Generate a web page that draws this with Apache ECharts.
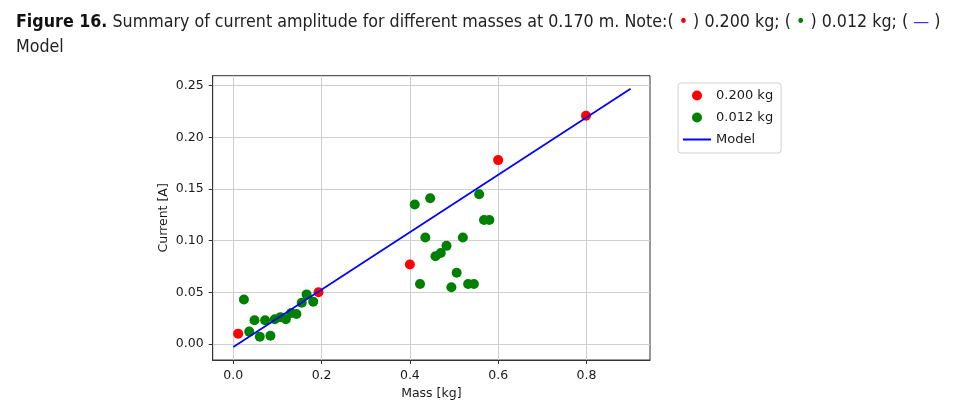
<!DOCTYPE html>
<html>
<head>
<meta charset="utf-8">
<script src="https://cdn.jsdelivr.net/npm/echarts@6/dist/echarts.min.js"></script>
<style>html,body{margin:0;padding:0;background:#fff}#c{width:972px;height:405px}</style>
</head>
<body>
<div id="c"></div>
<script>
// Data
const redX = [0.011, 0.193, 0.400, 0.600, 0.799];
const redY = [0.010, 0.050, 0.077, 0.178, 0.221];
const greenX = [0.024, 0.036, 0.048, 0.060, 0.072, 0.084, 0.094, 0.107, 0.119, 0.131, 0.143, 0.155, 0.166, 0.181,
                0.411, 0.423, 0.435, 0.446, 0.458, 0.470, 0.483, 0.494, 0.506, 0.520, 0.532, 0.545, 0.557, 0.568, 0.580];
const greenY = [0.043, 0.012, 0.023, 0.007, 0.023, 0.008, 0.024, 0.026, 0.024, 0.030, 0.029, 0.040, 0.048, 0.041,
                0.135, 0.058, 0.103, 0.141, 0.085, 0.088, 0.095, 0.055, 0.069, 0.103, 0.058, 0.058, 0.145, 0.120, 0.120];
const modelX = [0.0, 0.9];
const modelY = [-0.003, 0.247];
const xTicks = [0.0, 0.2, 0.4, 0.6, 0.8];
const yTicks = [0.00, 0.05, 0.10, 0.15, 0.20, 0.25];
const seriesNames = ['0.200 kg', '0.012 kg', 'Model'];

const zip = (a, b) => a.map((v, i) => [v, b[i]]);
const F = 'DejaVu Sans';
const CF = "'DejaVu Sans Condensed', 'DejaVu Sans'";
const TS = 17.7;
const chart = echarts.init(document.getElementById('c'), null, {renderer: 'canvas'});
chart.setOption({
  animation: false,
  backgroundColor: '#fff',
  title: {
    left: 11, top: 5,
    text: '{b|Figure 16.} Summary of current amplitude for different masses at 0.170 m. Note:( {r|•} ) 0.200 kg; ( {g|•} ) 0.012 kg; ( {l|—} )\nModel',
    textStyle: {
      fontFamily: CF, fontSize: TS, fontWeight: 'normal', color: '#222', lineHeight: 25,
      rich: {
        b: {fontFamily: CF, fontSize: TS, fontWeight: 'bold', color: '#111'},
        r: {fontFamily: CF, fontSize: TS, color: '#ff0000'},
        g: {fontFamily: CF, fontSize: TS, color: '#008000'},
        l: {fontFamily: CF, fontSize: TS, color: '#3333ff'}
      }
    }
  },
  legend: {
    orient: 'vertical', left: 678, top: 83,
    padding: [6, 8, 7, 5], itemGap: 9, itemWidth: 28, itemHeight: 10,
    borderColor: '#d0d0d0', borderWidth: 1, borderRadius: 3,
    textStyle: {fontFamily: F, fontSize: 13, color: '#1a1a1a'},
    data: [
      {name: seriesNames[0], icon: 'circle'},
      {name: seriesNames[1], icon: 'circle'},
      {name: seriesNames[2], icon: 'path://M0,0 H28 V2 H0 Z'}
    ]
  },
  grid: {left: 212.7, right: 322, top: 75.7, bottom: 45, show: true, borderColor: '#333', borderWidth: 1, containLabel: false},
  xAxis: {
    type: 'value', min: -0.0467, max: 0.944,
    name: 'Mass [kg]', nameLocation: 'middle', nameGap: 27,
    nameTextStyle: {fontFamily: F, fontSize: 12.5, color: '#1a1a1a'},
    axisLine: {show: true, onZero: false, lineStyle: {color: '#333'}},
    axisTick: {show: true, length: 4, customValues: xTicks, lineStyle: {color: '#333'}},
    axisLabel: {customValues: xTicks, margin: 9, fontFamily: F, fontSize: 12.5, color: '#1a1a1a', formatter: v => v.toFixed(1)},
    splitLine: {show: true, lineStyle: {color: '#cfcfcf', width: 1}}
  },
  yAxis: {
    type: 'value', min: -0.0155, max: 0.2597,
    name: 'Current [A]', nameLocation: 'middle', nameGap: 42,
    nameTextStyle: {fontFamily: F, fontSize: 12.5, color: '#1a1a1a'},
    axisLine: {show: true, onZero: false, lineStyle: {color: '#333'}},
    axisTick: {show: true, length: 4, customValues: yTicks, lineStyle: {color: '#333'}},
    axisLabel: {customValues: yTicks, margin: 9, fontFamily: F, fontSize: 12.5, color: '#1a1a1a', formatter: v => v.toFixed(2)},
    splitLine: {show: true, lineStyle: {color: '#cfcfcf', width: 1}}
  },
  series: [
    {name: seriesNames[0], type: 'scatter', data: zip(redX, redY), symbolSize: 10, itemStyle: {color: '#ff0000', opacity: 1}, z: 3},
    {name: seriesNames[1], type: 'scatter', data: zip(greenX, greenY), symbolSize: 10, itemStyle: {color: '#008000', opacity: 1}, z: 3},
    {name: seriesNames[2], type: 'line', data: zip(modelX, modelY), showSymbol: false, symbol: 'none',
     lineStyle: {color: '#0000ff', width: 1.7}, itemStyle: {color: '#0000ff'}, z: 4}
  ]
});
</script>
</body>
</html>
